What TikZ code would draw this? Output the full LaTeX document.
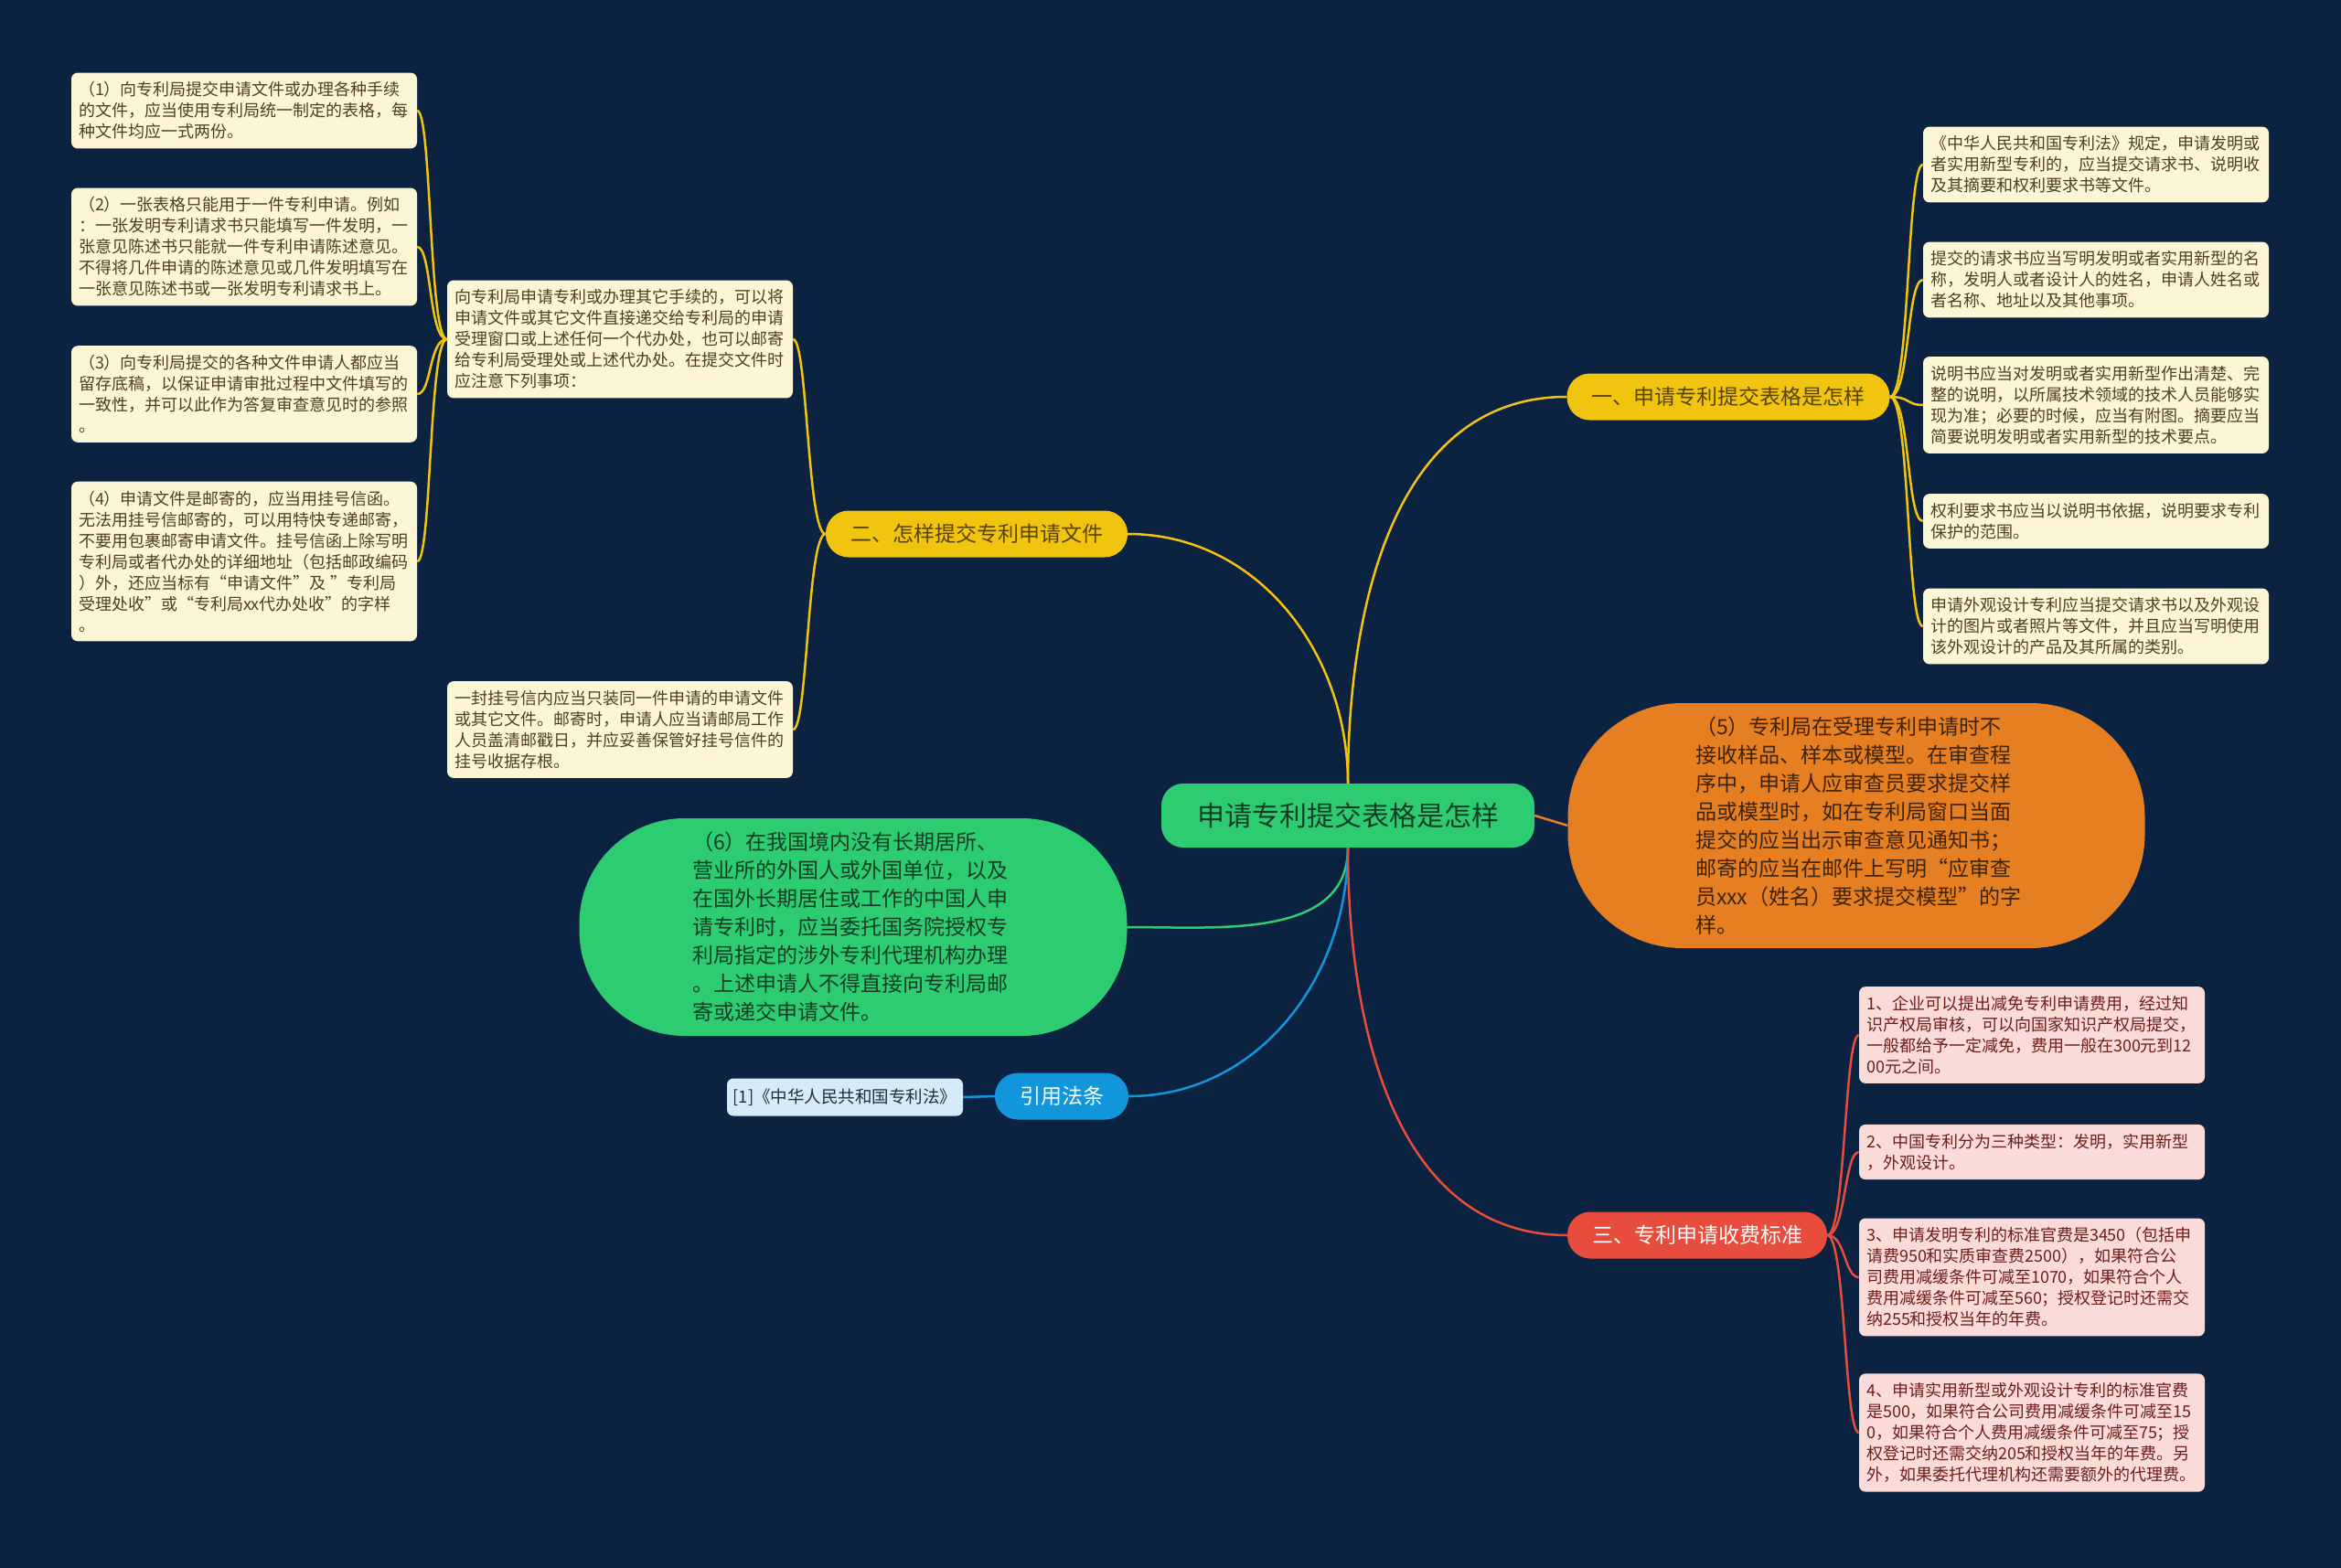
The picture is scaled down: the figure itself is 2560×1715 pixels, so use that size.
\documentclass[tikz,border=0pt]{standalone}
\usepackage{fontspec}
\setmainfont{Noto Sans CJK SC}
\usepackage{tikz}
\usetikzlibrary{positioning}

\definecolor{navybg}{HTML}{0B2341}
\definecolor{topicgreen}{HTML}{2ECC71}
\definecolor{topicink}{HTML}{123D25}
\definecolor{sunyellow}{HTML}{F1C40F}
\definecolor{sunink}{HTML}{574400}
\definecolor{creamleaf}{HTML}{FDF6D5}
\definecolor{creamink}{HTML}{4D4022}
\definecolor{feered}{HTML}{E74C3C}
\definecolor{pinkleaf}{HTML}{FADBD8}
\definecolor{pinkink}{HTML}{6E1F1A}
\definecolor{deskorange}{HTML}{E67E22}
\definecolor{orangeink}{HTML}{3D2408}
\definecolor{lawblue}{HTML}{1296DB}
\definecolor{skyleaf}{HTML}{D6EAF8}
\definecolor{skyink}{HTML}{1E2E3E}

\tikzstyle{topic} = [
  rectangle, fill=topicgreen, text=topicink,
  rounded corners=24pt, inner xsep=39pt,
  minimum height=70pt, font=\fontsize{30}{36}\selectfont
]
\tikzstyle{branch} = [
  rectangle, rounded corners=25pt, inner xsep=27pt,
  minimum height=51pt, font=\fontsize{23}{28}\selectfont
]
\tikzstyle{leaf} = [
  rectangle, rounded corners=7pt,
  text width=362pt, align=left, inner xsep=8pt, inner ysep=10pt,
  font=\fontsize{18}{23}\selectfont
]
\tikzstyle{bubble} = [
  rectangle, text width=352pt, align=left,
  font=\fontsize{23}{31}\selectfont
]
\tikzstyle{link} = [line width=2.5pt]

\begin{document}
\begin{tikzpicture}[x=1pt, y=-1pt]

  % Background
  \fill[navybg] (0,0) rectangle (2560,1715);

  % Central Topic
  \node[topic] (center) at (1474, 892) {申请专利提交表格是怎样};

  % Main Branches
  \node[branch, fill=sunyellow, text=sunink] (form) at (1890, 434) {一、申请专利提交表格是怎样};
  \node[branch, fill=sunyellow, text=sunink] (submit) at (1068, 584) {二、怎样提交专利申请文件};
  \node[branch, fill=feered, text=white] (fee) at (1856, 1351) {三、专利申请收费标准};
  \node[branch, fill=lawblue, text=white] (cite) at (1161, 1199) {引用法条};

  % Big Bubbles
  \node[bubble, fill=deskorange, text=orangeink, rounded corners=125pt,
        minimum width=631pt, minimum height=268pt]
    (sample) at (2030, 903) {（5）专利局在受理专利申请时不\\
接收样品、样本或模型。在审查程\\
序中，申请人应审查员要求提交样\\
品或模型时，如在专利局窗口当面\\
提交的应当出示审查意见通知书；\\
邮寄的应当在邮件上写明“应审查\\
员xxx（姓名）要求提交模型”的字\\
样。};
  \node[bubble, fill=topicgreen, text=topicink, rounded corners=115pt,
        minimum width=599pt, minimum height=238pt]
    (foreign) at (933, 1014) {（6）在我国境内没有长期居所、\\
营业所的外国人或外国单位，以及\\
在国外长期居住或工作的中国人申\\
请专利时，应当委托国务院授权专\\
利局指定的涉外专利代理机构办理\\
。上述申请人不得直接向专利局邮\\
寄或递交申请文件。};

  % Law Reference
  \node[rectangle, rounded corners=7pt, fill=skyleaf, text=skyink,
        minimum width=258pt, minimum height=41pt, font=\fontsize{18.5}{23}\selectfont]
    (lawref) at (924, 1200) {[1]《中华人民共和国专利法》};

  % Branch One Leaves
  \node[leaf, fill=creamleaf, text=creamink] (docs) at (2292, 180) {《中华人民共和国专利法》规定，申请发明或\\
者实用新型专利的，应当提交请求书、说明收\\
及其摘要和权利要求书等文件。};
  \node[leaf, fill=creamleaf, text=creamink] (request) at (2292, 306) {提交的请求书应当写明发明或者实用新型的名\\
称，发明人或者设计人的姓名，申请人姓名或\\
者名称、地址以及其他事项。};
  \node[leaf, fill=creamleaf, text=creamink] (manual) at (2292, 443) {说明书应当对发明或者实用新型作出清楚、完\\
整的说明，以所属技术领域的技术人员能够实\\
现为准；必要的时候，应当有附图。摘要应当\\
简要说明发明或者实用新型的技术要点。};
  \node[leaf, fill=creamleaf, text=creamink] (claims) at (2292, 570) {权利要求书应当以说明书依据，说明要求专利\\
保护的范围。};
  \node[leaf, fill=creamleaf, text=creamink] (design) at (2292, 685) {申请外观设计专利应当提交请求书以及外观设\\
计的图片或者照片等文件，并且应当写明使用\\
该外观设计的产品及其所属的类别。};

  % Branch Two Leaves
  \node[leaf, fill=creamleaf, text=creamink] (howto) at (678, 371) {向专利局申请专利或办理其它手续的，可以将\\
申请文件或其它文件直接递交给专利局的申请\\
受理窗口或上述任何一个代办处，也可以邮寄\\
给专利局受理处或上述代办处。在提交文件时\\
应注意下列事项：};
  \node[leaf, fill=creamleaf, text=creamink] (letter) at (678, 798) {一封挂号信内应当只装同一件申请的申请文件\\
或其它文件。邮寄时，申请人应当请邮局工作\\
人员盖清邮戳日，并应妥善保管好挂号信件的\\
挂号收据存根。};

  % Submission Notes
  \node[leaf, fill=creamleaf, text=creamink] (note1) at (267, 121) {（1）向专利局提交申请文件或办理各种手续\\
的文件，应当使用专利局统一制定的表格，每\\
种文件均应一式两份。};
  \node[leaf, fill=creamleaf, text=creamink] (note2) at (267, 270) {（2）一张表格只能用于一件专利申请。例如\\
：一张发明专利请求书只能填写一件发明，一\\
张意见陈述书只能就一件专利申请陈述意见。\\
不得将几件申请的陈述意见或几件发明填写在\\
一张意见陈述书或一张发明专利请求书上。};
  \node[leaf, fill=creamleaf, text=creamink] (note3) at (267, 431) {（3）向专利局提交的各种文件申请人都应当\\
留存底稿，以保证申请审批过程中文件填写的\\
一致性，并可以此作为答复审查意见时的参照\\
。};
  \node[leaf, fill=creamleaf, text=creamink] (note4) at (267, 614) {（4）申请文件是邮寄的，应当用挂号信函。\\
无法用挂号信邮寄的，可以用特快专递邮寄，\\
不要用包裹邮寄申请文件。挂号信函上除写明\\
专利局或者代办处的详细地址（包括邮政编码\\
）外，还应当标有“申请文件”及 ”专利局\\
受理处收”或“专利局xx代办处收”的字样\\
。};

  % Fee Leaves
  \node[leaf, fill=pinkleaf, text=pinkink] (fee1) at (2222, 1132) {1、企业可以提出减免专利申请费用，经过知\\
识产权局审核，可以向国家知识产权局提交，\\
一般都给予一定减免，费用一般在300元到12\\
00元之间。};
  \node[leaf, fill=pinkleaf, text=pinkink] (fee2) at (2222, 1260) {2、中国专利分为三种类型：发明，实用新型\\
，外观设计。};
  \node[leaf, fill=pinkleaf, text=pinkink] (fee3) at (2222, 1397) {3、申请发明专利的标准官费是3450（包括申\\
请费950和实质审查费2500），如果符合公\\
司费用减缓条件可减至1070，如果符合个人\\
费用减缓条件可减至560；授权登记时还需交\\
纳255和授权当年的年费。};
  \node[leaf, fill=pinkleaf, text=pinkink] (fee4) at (2222, 1567) {4、申请实用新型或外观设计专利的标准官费\\
是500，如果符合公司费用减缓条件可减至15\\
0，如果符合个人费用减缓条件可减至75；授\\
权登记时还需交纳205和授权当年的年费。另\\
外，如果委托代理机构还需要额外的代理费。};

  % Connections
  \draw[link, sunyellow] (center.north) to[out=90, in=180] (form.west);
  \draw[link, sunyellow] (center.north) to[out=90, in=0] (submit.east);
  \draw[link, deskorange] (center.east) -- (sample.west);
  \draw[link, topicgreen] (center.south) to[out=-90, in=0] (foreign.east);
  \draw[link, lawblue] (center.south) to[out=-90, in=0] (cite.east);
  \draw[link, feered] (center.south) to[out=-90, in=180] (fee.west);

  \foreach \leafname in {docs, request, manual, claims, design}
    \draw[link, sunyellow] (form.east) .. controls +(22,0) and +(-18,0) .. (\leafname.west);
  \foreach \leafname in {howto, letter}
    \draw[link, sunyellow] (submit.west) .. controls +(-20,0) and +(16,0) .. (\leafname.east);
  \foreach \leafname in {note1, note2, note3, note4}
    \draw[link, sunyellow] (howto.west) .. controls +(-20,0) and +(16,0) .. (\leafname.east);
  \foreach \leafname in {fee1, fee2, fee3, fee4}
    \draw[link, feered] (fee.east) .. controls +(20,0) and +(-16,0) .. (\leafname.west);
  \draw[link, lawblue] (cite.west) -- (lawref.east);

\end{tikzpicture}
\end{document}
